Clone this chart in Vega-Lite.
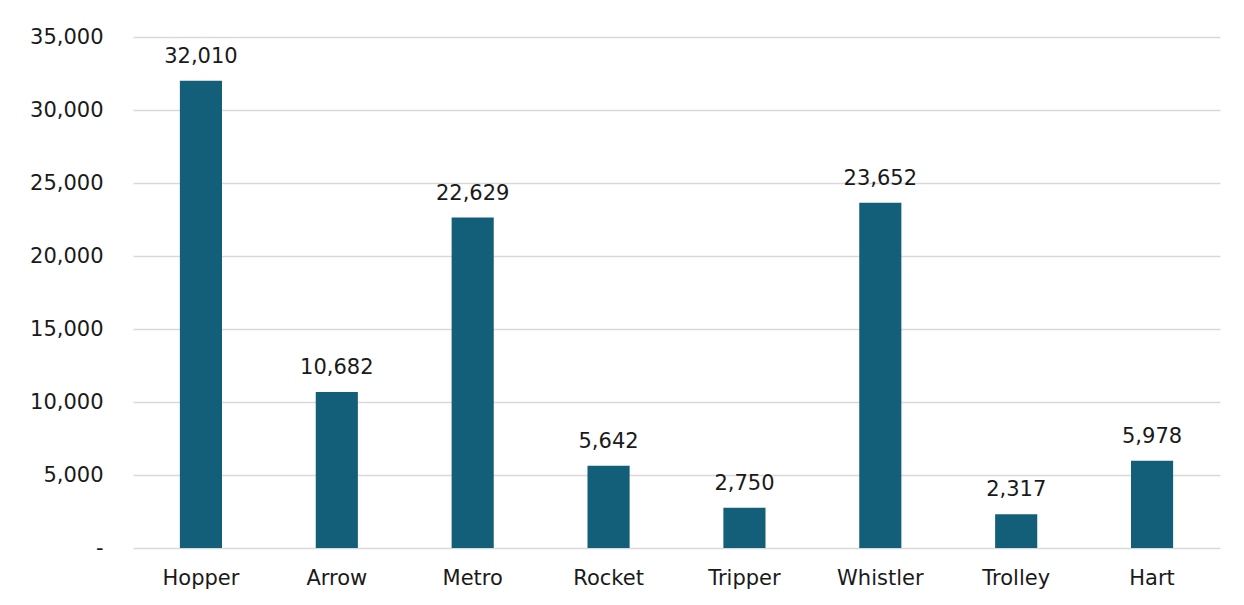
{
  "$schema": "https://vega.github.io/schema/vega-lite/v6.json",
  "width": 1087,
  "height": 511,
  "autosize": {"type": "none"},
  "padding": {"left": 133, "top": 37, "right": 24, "bottom": 57},
  "background": "white",
  "config": {
    "view": {"stroke": null},
    "font": "DejaVu Sans"
  },
  "data": {
    "values": [
      {"route": "Hopper", "riders": 32010},
      {"route": "Arrow", "riders": 10682},
      {"route": "Metro", "riders": 22629},
      {"route": "Rocket", "riders": 5642},
      {"route": "Tripper", "riders": 2750},
      {"route": "Whistler", "riders": 23652},
      {"route": "Trolley", "riders": 2317},
      {"route": "Hart", "riders": 5978}
    ]
  },
  "encoding": {
    "x": {
      "field": "route",
      "type": "nominal",
      "sort": null,
      "scale": {"paddingInner": 0.69, "paddingOuter": 0.345},
      "axis": {
        "title": null,
        "labelAngle": 0,
        "labelFontSize": 21,
        "labelColor": "#1a1a1a",
        "labelPadding": 19,
        "labelOverlap": false,
        "ticks": false,
        "domain": false
      }
    },
    "y": {
      "field": "riders",
      "type": "quantitative",
      "scale": {"domain": [0, 35000], "nice": false},
      "axis": {
        "title": null,
        "values": [0, 5000, 10000, 15000, 20000, 25000, 30000, 35000],
        "labelExpr": "datum.value == 0 ? '-\u00a0\u00a0\u00a0' : format(datum.value, ',')",
        "labelOverlap": false,
        "labelFontSize": 21,
        "labelColor": "#1a1a1a",
        "labelPadding": 30,
        "ticks": false,
        "domain": false,
        "gridColor": "#d9d9d9",
        "gridWidth": 1.5
      }
    }
  },
  "layer": [
    {"mark": {"type": "bar", "color": "#135F7A"}},
    {
      "mark": {"type": "text", "dy": -24, "fontSize": 21, "color": "#1a1a1a"},
      "encoding": {"text": {"field": "riders", "type": "quantitative", "format": ","}}
    }
  ]
}
